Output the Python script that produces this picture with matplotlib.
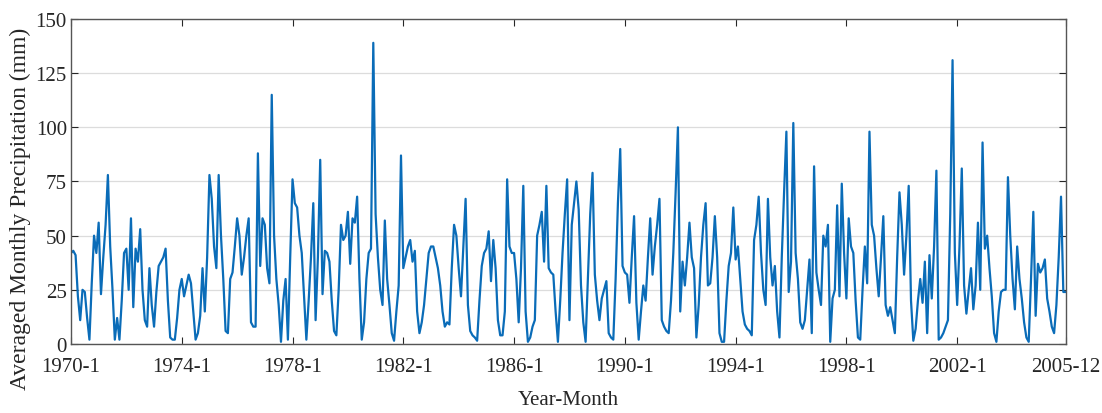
import numpy as np
import matplotlib
matplotlib.use("Agg")
import matplotlib.pyplot as plt

# Averaged monthly precipitation (mm), one list per year, Jan..Dec
p1970 = [42, 43, 41, 22, 11, 25, 24, 12, 2, 28, 50, 42]
p1971 = [56, 23, 40, 55, 78, 45, 25, 2, 12, 2, 20, 42]
p1972 = [44, 25, 58, 17, 44, 38, 53, 25, 11, 8, 35, 18]
p1973 = [8, 24, 36, 38, 40, 44, 20, 3, 2, 2, 12, 25]
p1974 = [30, 22, 27, 32, 28, 15, 2, 5, 13, 35, 15, 40]
p1975 = [78, 67, 45, 35, 78, 50, 30, 6, 5, 30, 33, 45]
p1976 = [58, 50, 32, 40, 50, 58, 10, 8, 8, 88, 36, 58]
p1977 = [55, 35, 28, 115, 50, 30, 18, 1, 20, 30, 2, 40]
p1978 = [76, 65, 63, 50, 42, 22, 2, 20, 40, 65, 11, 40]
p1979 = [85, 23, 43, 42, 38, 20, 6, 4, 25, 55, 48, 50]
p1980 = [61, 37, 58, 56, 68, 30, 2, 10, 30, 42, 44, 139]
p1981 = [60, 40, 25, 18, 57, 30, 18, 5, 1.5, 15, 27, 87]
p1982 = [35, 40, 45, 48, 38, 43, 15, 5, 10, 18, 30, 42]
p1983 = [45, 45, 40, 35, 27, 15, 8, 10, 9, 35, 55, 50]
p1984 = [35, 22, 45, 67, 18, 6, 4, 3, 1.5, 20, 36, 42]
p1985 = [44, 52, 29, 48, 35, 11, 4, 4, 15, 76, 45, 42]
p1986 = [42, 30, 10, 35, 73, 15, 1, 3, 8, 11, 50, 55]
p1987 = [61, 38, 73, 35, 33, 32, 15, 1, 20, 42, 60, 76]
p1988 = [11, 55, 65, 75, 62, 27, 10, 1, 30, 60, 79, 32]
p1989 = [20, 11, 21, 25, 29, 5, 3, 2, 30, 65, 90, 36]
p1990 = [33, 32, 19, 40, 59, 19, 2, 15, 27, 20, 40, 58]
p1991 = [32, 45, 55, 67, 11, 8, 6, 5, 20, 42, 70, 100]
p1992 = [15, 38, 27, 40, 56, 40, 35, 3, 18, 40, 55, 65]
p1993 = [27, 28, 40, 59, 40, 5, 1, 1, 20, 36, 42, 63]
p1994 = [39, 45, 30, 15, 9, 7, 6, 4, 48, 55, 68, 42]
p1995 = [25, 18, 67, 40, 27, 36, 15, 3, 40, 70, 98, 24]
p1996 = [38, 102, 42, 30, 10, 7, 11, 25, 39, 5, 82, 33]
p1997 = [25, 18, 50, 45, 55, 1, 21, 25, 64, 22, 74, 42]
p1998 = [21, 58, 45, 42, 20, 3, 2, 25, 45, 28, 98, 55]
p1999 = [50, 35, 22, 40, 59, 18, 13, 17, 11, 5, 40, 70]
p2000 = [55, 32, 50, 73, 20, 1.5, 7, 20, 30, 19, 38, 5]
p2001 = [41, 21, 45, 80, 2, 3, 5, 8, 11, 60, 131, 42]
p2002 = [18, 45, 81, 27, 14, 25, 35, 16, 27, 56, 25, 93]
p2003 = [44, 50, 35, 22, 5, 1, 15, 24, 25, 25, 77, 50]
p2004 = [30, 16, 45, 30, 21, 10, 3, 1, 30, 61, 13, 37]
p2005 = [33, 35, 39, 21, 15, 8, 5, 18, 40, 68, 24, 24]

tick_labels = ["1970-1", "1974-1", "1978-1", "1982-1", "1986-1",
               "1990-1", "1994-1", "1998-1", "2002-1", "2005-12"]
tick_months = [0, 48, 96, 144, 192, 240, 288, 336, 384, 431]
y_ticks = [0, 25, 50, 75, 100, 125, 150]

precip = np.concatenate([
    p1970, p1971, p1972, p1973, p1974, p1975, p1976, p1977, p1978, p1979,
    p1980, p1981, p1982, p1983, p1984, p1985, p1986, p1987, p1988, p1989,
    p1990, p1991, p1992, p1993, p1994, p1995, p1996, p1997, p1998, p1999,
    p2000, p2001, p2002, p2003, p2004, p2005,
])
months = np.arange(len(precip))

plt.rcParams["font.family"] = ["Liberation Serif", "DejaVu Serif"]

fig = plt.figure(figsize=(11.02, 4.14), dpi=100)
ax = fig.add_axes([0.0644, 0.1667, 0.9026, 0.785])

ax.plot(months, precip, color="#0a6cb8", linewidth=1.6)

ax.set_xlim(0, 431)
ax.set_ylim(0, 150)
ax.set_xticks(tick_months)
ax.set_xticklabels(tick_labels)
ax.set_yticks(y_ticks)

ax.grid(axis="y", color="#dcdcdc", linewidth=0.9)
ax.set_axisbelow(True)
ax.tick_params(direction="in", top=True, right=True, length=5,
               labelsize=15, colors="#262626")
ax.tick_params(axis="x", pad=9.5)
ax.tick_params(axis="y", pad=3)
for s in ax.spines.values():
    s.set_color("#555555")
    s.set_linewidth(1.0)

ax.set_xlabel("Year-Month", fontsize=15, color="#262626", labelpad=10)
ax.set_ylabel("Averaged Monthly Precipitation (mm)", fontsize=17,
              color="#262626")
ax.yaxis.set_label_coords(-0.040, 0.42)

fig.savefig("out.png", dpi=100)
